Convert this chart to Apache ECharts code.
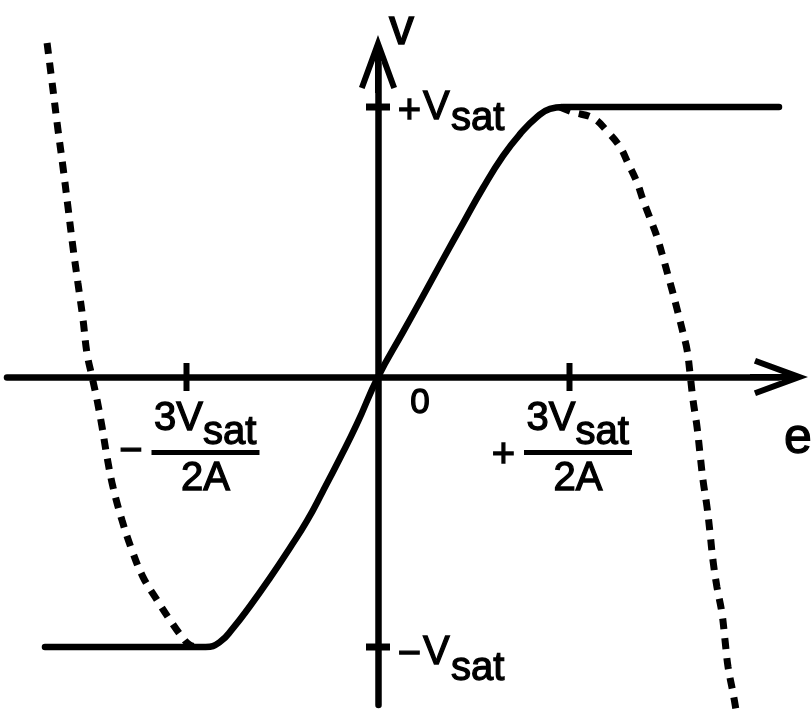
<!DOCTYPE html>
<html>
<head>
<meta charset="utf-8">
<script src="https://cdn.jsdelivr.net/npm/echarts@6/dist/echarts.min.js"></script>
<style>
  html, body { margin: 0; padding: 0; background: #fff; }
  #chart { width: 811px; height: 724px; }
</style>
</head>
<body>
<div id="chart"></div>
<script>
// e is measured in units of 3Vsat/2A, v in units of Vsat.

// Amplifier transfer curve with saturation (solid)
const solidE = [-1.739, -0.900, -0.825, -0.757, -0.668, -0.564, -0.460, -0.371, -0.287, -0.198, -0.110, 0.000,
                0.131, 0.235, 0.339, 0.444, 0.548, 0.653, 0.742, 0.830, 0.898, 0.966, 2.094];
const solidV = [-1.000, -1.000, -0.981, -0.930, -0.848, -0.744, -0.633, -0.533, -0.422, -0.300, -0.174, 0.000,
                0.167, 0.300, 0.435, 0.569, 0.700, 0.819, 0.900, 0.963, 0.993, 1.000, 1.000];

// Unsaturated cubic continuation, negative side (dashed)
const dashLeftE = [-1.728, -1.697, -1.671, -1.645, -1.619, -1.593, -1.567, -1.540, -1.520, -1.493, -1.467,
                   -1.441, -1.415, -1.384, -1.337, -1.285, -1.227, -1.154, -1.086, -1.023, -0.982, -0.930];
const dashLeftV = [1.237, 1.063, 0.915, 0.778, 0.630, 0.481, 0.348, 0.211, 0.089, 0.000, -0.085,
                   -0.185, -0.296, -0.407, -0.530, -0.641, -0.741, -0.826, -0.900, -0.963, -0.993, -1.000];

// Unsaturated cubic continuation, positive side (dashed)
const dashRightE = [0.950, 1.018, 1.123, 1.201, 1.264, 1.305, 1.352, 1.384, 1.420, 1.457, 1.488, 1.514, 1.540,
                    1.567, 1.593, 1.614, 1.629, 1.645, 1.666, 1.681, 1.697, 1.718, 1.734, 1.749, 1.770,
                    1.796, 1.812, 1.828, 1.854, 1.875];
const dashRightV = [1.000, 0.981, 0.959, 0.907, 0.852, 0.793, 0.722, 0.656, 0.589, 0.519, 0.444, 0.378, 0.311,
                    0.237, 0.163, 0.100, 0.015, -0.085, -0.185, -0.281, -0.381, -0.481, -0.578, -0.678, -0.778,
                    -0.874, -0.974, -1.074, -1.170, -1.256];

// Ticks and their labels
const eTicks = [-1, 1];
const eTickSigns = ['\u2212', '+'];
const vTicks = [1, -1];
const vTickSigns = ['+', '\u2212'];
const fracNumMain = '3V';
const fracNumSub = 'sat';
const fracDen = '2A';
const vLabelMain = 'V';
const vLabelSub = 'sat';
const originLabel = '0';
const eAxisName = 'e';
const vAxisName = 'v';

const E_MIN = -1.9373, E_MAX = 2.0940;
const V_MIN = -1.2148, V_MAX = 1.1593;

const FONT = '"Liberation Sans", Arial, Helvetica, sans-serif';
const INK = '#000';
const LW = 6.5;

// open chevron arrow head with a centre stem (points up before rotation)
const ARROW = 'path://M19 0 L38 52 L32.4 54.1 L22 25.8 L22 58 L16 58 L16 25.8 L5.6 54.1 L0 52 Z';

const zip = (xs, ys) => xs.map((x, i) => [x, ys[i]]);

const axisCommon = {
  type: 'value',
  axisLine: {
    show: true, onZero: true,
    lineStyle: { color: INK, width: LW },
    symbol: ['none', ARROW],
    symbolSize: [38, 58]
  },
  axisTick: { show: false },
  axisLabel: { show: false },
  splitLine: { show: false }
};

const chart = echarts.init(document.getElementById('chart'), null, { renderer: 'canvas' });

chart.setOption({
  animation: false,
  backgroundColor: '#fff',
  grid: { left: 7, right: 32, top: 64, bottom: 19, outerBoundsMode: 'none', containLabel: false },
  xAxis: Object.assign({}, axisCommon, { min: E_MIN, max: E_MAX }),
  yAxis: Object.assign({}, axisCommon, { min: V_MIN, max: V_MAX }),
  series: [
    {
      name: 'cubic', type: 'line', data: zip(dashLeftE, dashLeftV),
      showSymbol: false, symbol: 'none', smooth: 0.4, clip: false, z: 3,
      lineStyle: { color: INK, width: 7, type: [11, 9], cap: 'butt', opacity: 1 }
    },
    {
      name: 'cubic', type: 'line', data: zip(dashRightE, dashRightV),
      showSymbol: false, symbol: 'none', smooth: 0.4, clip: false, z: 3,
      lineStyle: { color: INK, width: 7, type: [11, 9], cap: 'butt', opacity: 1 }
    },
    {
      name: 'transfer', type: 'line', data: zip(solidE, solidV),
      showSymbol: false, symbol: 'none', smooth: 0.5, clip: false, z: 4,
      lineStyle: { color: INK, width: LW, cap: 'round', join: 'round', opacity: 1 }
    },
    {
      name: 'e ticks', type: 'scatter', data: eTicks.map(e => [e, 0]),
      symbol: 'rect', symbolSize: [6, 28], itemStyle: { color: INK, opacity: 1 }, z: 5, clip: false
    },
    {
      name: 'v ticks', type: 'scatter', data: vTicks.map(v => [0, v]),
      symbol: 'rect', symbolSize: [24, 7], itemStyle: { color: INK, opacity: 1 }, z: 5, clip: false
    }
  ]
});

// ---- text labels placed relative to the ticks and axes ----
const BASE = 0.34; // distance from the middle line to the alphabetic baseline, in em
const TEXT_STROKE = 1.3; // thickens the glyphs a little

function textStyle(str, size, align) {
  return {
    text: str, font: size + 'px ' + FONT, fill: INK,
    stroke: INK, lineWidth: TEXT_STROKE,
    align: align, textAlign: align,
    verticalAlign: 'middle', textVerticalAlign: 'middle'
  };
}
function text(x, baseline, str, size, align) {
  return { type: 'text', x: x, y: baseline - BASE * size, z: 100, style: textStyle(str, size, align || 'left') };
}
function centred(cx, cy, str, size) {
  return { type: 'text', x: cx, y: cy, z: 100, style: textStyle(str, size, 'center') };
}
const toPx = (e, v) => chart.convertToPixel({ gridIndex: 0 }, [e, v]);

const graphics = [];

// fraction labels under the e ticks
const fracShift = [19, 8.5];     // centre of each fraction relative to its tick
const signY = [75, 79];          // centre of each sign below the axis
eTicks.forEach((e, i) => {
  const p = toPx(e, 0);
  const cx = p[0] + fracShift[i];
  const jx = cx - 2.5;
  graphics.push(centred(cx - 74.5, p[1] + signY[i], eTickSigns[i], 40));
  graphics.push(text(jx, p[1] + 56, fracNumMain, 40, 'right'));
  graphics.push(text(jx, p[1] + 70, fracNumSub, 40, 'left'));
  graphics.push({
    type: 'rect', z: 100,
    shape: { x: cx - 54, y: p[1] + 73, width: 108, height: 5 },
    style: { fill: INK }
  });
  graphics.push(text(cx, p[1] + 116, fracDen, 40, 'center'));
});

// ±Vsat labels beside the v ticks
const vSignDy = [5, 8], vMainDy = [15, 20], vSubDy = [26, 36];
vTicks.forEach((v, i) => {
  const p = toPx(0, v);
  graphics.push(centred(p[0] + 31.5, p[1] + vSignDy[i], vTickSigns[i], 40));
  graphics.push(text(p[0] + 45, p[1] + vMainDy[i], vLabelMain, 40, 'left'));
  graphics.push(text(p[0] + 73, p[1] + vSubDy[i], vLabelSub, 40, 'left'));
});

// origin and axis names
const originPx = toPx(0, 0);
graphics.push(text(originPx[0] + 42, originPx[1] + 38, originLabel, 35, 'center'));
const vEndPx = toPx(0, V_MAX);
graphics.push(text(vEndPx[0] + 11, vEndPx[1] - 17, vAxisName, 50, 'left'));
const eEndPx = toPx(E_MAX, 0);
graphics.push(text(eEndPx[0] + 5, eEndPx[1] + 79, eAxisName, 50, 'left'));

chart.setOption({ graphic: graphics });
</script>
</body>
</html>
